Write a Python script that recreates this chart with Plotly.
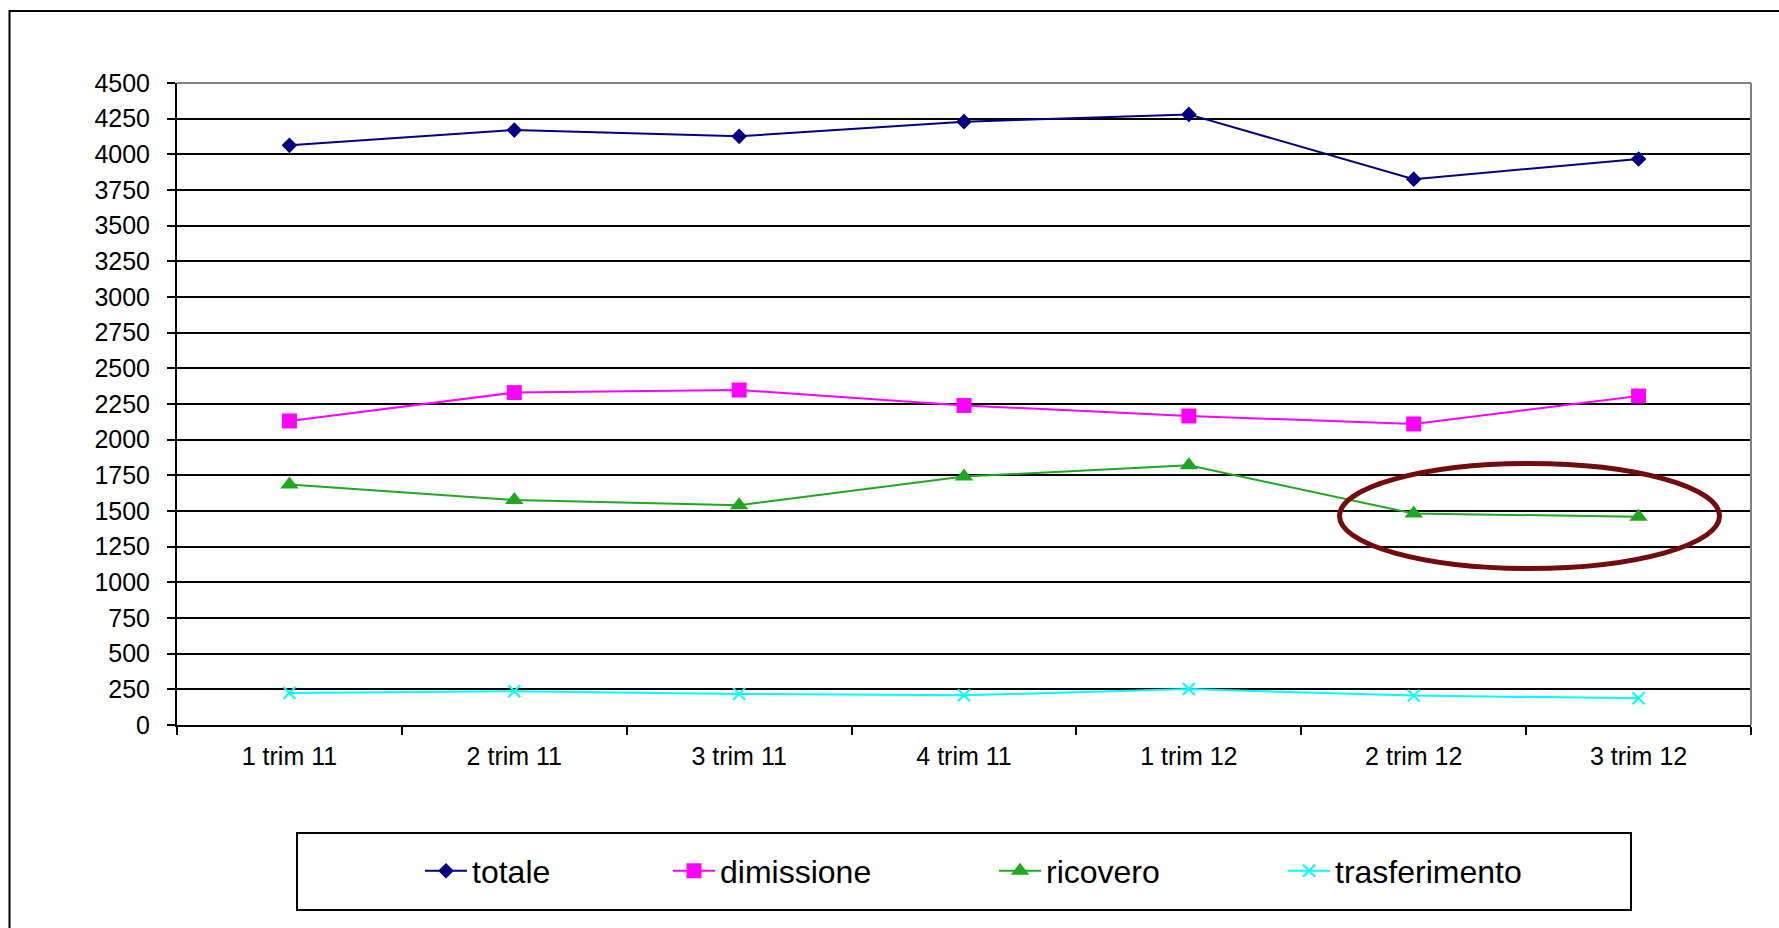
import plotly.graph_objects as go

# Quarterly counts by outcome
trimestri = ["1 trim 11", "2 trim 11", "3 trim 11", "4 trim 11", "1 trim 12", "2 trim 12", "3 trim 12"]
totale = [4063, 4170, 4126, 4229, 4280, 3826, 3967]
dimissione = [2131, 2330, 2348, 2240, 2166, 2110, 2306]
ricovero = [1686, 1577, 1540, 1742, 1820, 1482, 1460]
trasferimento = [224, 236, 218, 208, 252, 206, 188]

y_ticks = list(range(0, 4501, 250))

W, H = 1779, 928
L, R, T, B = 177, 28, 83, 203
PW, PH = W - L - R, H - T - B
FONT = "Liberation Sans, Arial, sans-serif"


def px_x(p):
    return (p - L) / PW


def px_y(p):
    return (H - B - p) / PH


series = [
    ("totale", totale, "#000080", "diamond", 12, "legend", 440),
    ("dimissione", dimissione, "#FF00FF", "square", 15, "legend2", 688),
    ("ricovero", ricovero, "#1FA81F", "triangle-up", 16, "legend3", 1014),
    ("trasferimento", trasferimento, "#00FFFF", "x-thin", 12, "legend4", 1303),
]

fig = go.Figure()
legend_layout = {}
for name, vals, color, symbol, size, leg, mx in series:
    marker = dict(symbol=symbol, size=size, color=color)
    if symbol == "x-thin":
        marker["line"] = dict(color=color, width=2)
    fig.add_trace(go.Scatter(
        x=trimestri, y=vals, name=name, mode="lines+markers",
        line=dict(color=color, width=2), marker=marker, legend=leg,
    ))
    legend_layout[leg] = dict(
        x=px_x(mx - 20), xanchor="left", y=px_y(871), yanchor="middle",
        orientation="h", bgcolor="rgba(0,0,0,0)", borderwidth=0,
        font=dict(family=FONT, size=32, color="black"), itemwidth=42,
    )

shapes = [
    # outer chart frame
    dict(type="rect", xref="paper", yref="paper",
         x0=px_x(9.5), x1=px_x(1850), y0=px_y(11), y1=px_y(990),
         line=dict(color="black", width=2), layer="below"),
    # plot area frame (top and right edges)
    dict(type="line", xref="paper", yref="paper", x0=0, x1=1, y0=1, y1=1,
         line=dict(color="#808080", width=2), layer="above"),
    dict(type="line", xref="paper", yref="paper", x0=1, x1=1, y0=0, y1=1,
         line=dict(color="#808080", width=2), layer="above"),
    # legend box
    dict(type="rect", xref="paper", yref="paper",
         x0=px_x(297), x1=px_x(1631), y0=px_y(833), y1=px_y(910),
         line=dict(color="black", width=2), layer="below"),
    # highlight of the last two ricovero values
    dict(type="circle", xref="x", yref="y",
         x0=4.67, x1=6.36, y0=1097, y1=1833,
         line=dict(color="#720C0C", width=5), layer="above"),
]

fig.update_layout(
    width=W, height=H,
    margin=dict(l=L, r=R, t=T, b=B),
    paper_bgcolor="white", plot_bgcolor="white",
    font=dict(family=FONT, color="black"),
    shapes=shapes,
    showlegend=True,
    **legend_layout,
)

fig.update_xaxes(
    type="category", range=[-0.5, 6.5],
    showline=True, linecolor="black", linewidth=2,
    ticks="outside", tickson="boundaries", ticklen=8, tickwidth=2, tickcolor="black",
    showgrid=False, tickfont=dict(family=FONT, size=25, color="black"),
    ticklabelstandoff=8,
)
fig.update_yaxes(
    range=[0, 4500], tickvals=y_ticks,
    showline=True, linecolor="black", linewidth=2,
    ticks="outside", ticklen=8, tickwidth=2, tickcolor="black",
    showgrid=True, gridcolor="black", gridwidth=2,
    zeroline=False,
    tickfont=dict(family=FONT, size=25, color="black"),
    ticklabelstandoff=12,
)

fig.write_html("out.html")
